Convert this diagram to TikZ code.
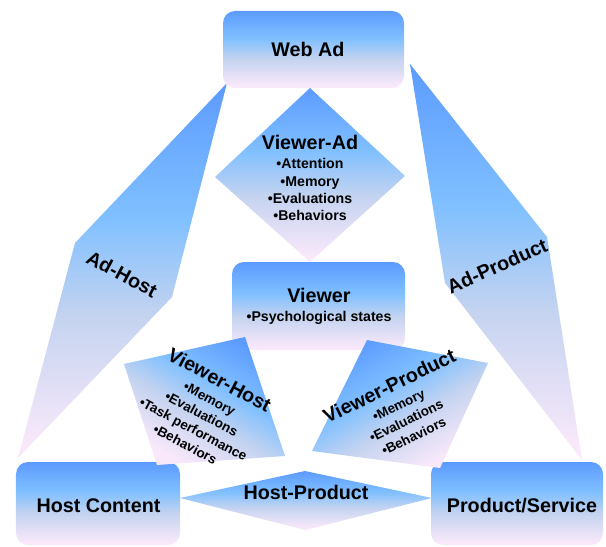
\documentclass[tikz,border=0pt]{standalone}
\usepackage{fontspec}
\setmainfont{Liberation Sans}
\definecolor{topc}{RGB}{92,155,255}
\definecolor{lightc}{RGB}{128,192,255}
\definecolor{greyc}{RGB}{196,211,240}
\definecolor{pinkc}{RGB}{248,232,250}
\pgfdeclareverticalshading{bluepink}{100bp}{color(0bp)=(pinkc); color(27bp)=(pinkc); color(44bp)=(greyc); color(57bp)=(lightc); color(75bp)=(topc); color(100bp)=(topc)}
\newcommand\ttl[1]{{\fontsize{19.8}{20}\selectfont #1}}
\tikzset{
  grad/.style={shading=bluepink, draw=none},
  boxnode/.style={grad, rounded corners=12bp, inner sep=0pt},
  label text/.style={font=\bfseries\fontsize{13.5}{17.3}\selectfont, align=center, inner sep=0pt},
  upright label/.style={label text, font=\bfseries\fontsize{14.2}{17.3}\selectfont},
  link text/.style={font=\bfseries\fontsize{19.8}{22}\selectfont, inner sep=0pt}
}
\begin{document}
\begin{tikzpicture}[x=1bp, y=-1bp]
\useasboundingbox (0,0) rectangle (606,547);

% corner points of the relation shapes
\coordinate (ah1) at (227,83);  \coordinate (ah2) at (75,243);
\coordinate (ah3) at (18,458);  \coordinate (ah4) at (172,297);
\coordinate (ap1) at (410,64);  \coordinate (ap2) at (547,237);
\coordinate (ap3) at (582,460); \coordinate (ap4) at (445,283);
\coordinate (va1) at (310,88);  \coordinate (va2) at (405,176);
\coordinate (va3) at (310,262); \coordinate (va4) at (215,177);
\coordinate (hp1) at (180,498); \coordinate (hp2) at (305,471);
\coordinate (hp3) at (432,498); \coordinate (hp4) at (305,530);
\coordinate (vh1) at (124,364); \coordinate (vh2) at (245,337);
\coordinate (vh3) at (285,456); \coordinate (vh4) at (157,465);
\coordinate (vp1) at (367,340); \coordinate (vp2) at (488,363);
\coordinate (vp3) at (440,468); \coordinate (vp4) at (312,451);

% links between the three entities
\path[grad] (ah1) -- (ah2) -- (ah3) -- (ah4) -- cycle;
\path[grad] (ap1) -- (ap2) -- (ap3) -- (ap4) -- cycle;
\path[grad] (va1) -- (va2) -- (va3) -- (va4) -- cycle;
\path[grad] (hp1) -- (hp2) -- (hp3) -- (hp4) -- cycle;

\node[link text, rotate=-28] (adhost) at (122,274) {Ad-Host};
\node[link text, rotate=24] (adprod) at (497,266) {Ad-Product};
\node[upright label] (viewerad) at (310,178)
  {\ttl{Viewer-Ad}\\[2pt]•Attention\\•Memory\\•Evaluations\\•Behaviors};
\node[link text] (hostprod) at (306,492) {Host-Product};

% entities
\node[boxnode, minimum width=181bp, minimum height=77bp] (webad) at (313.5,49.5) {};
\node[boxnode, minimum width=164bp, minimum height=83bp] (host) at (98,503.5) {};
\node[boxnode, minimum width=172bp, minimum height=83bp] (product) at (517,503.5) {};
\node[boxnode, minimum width=173bp, minimum height=88bp] (viewer) at (318.5,306) {};
\node[link text] (webadtext) at (308,49.7) {Web Ad};
\node[link text] (hosttext) at (98.5,505.5) {Host Content};
\node[link text] (producttext) at (522,506) {Product/Service};
\node[link text, align=center] (viewertext) at (319,306)
  {Viewer\\[-3pt]{\fontsize{14.2}{16}\selectfont •Psychological states}};

% viewer relations
\path[grad, shading angle=-30] (vh1) -- (vh2) -- (vh3) -- (vh4) -- cycle;
\path[grad, shading angle=30] (vp1) -- (vp2) -- (vp3) -- (vp4) -- cycle;
\node[label text, rotate=-28] (viewerhost) at (203,411)
  {\ttl{Viewer-Host}\\[2pt]•Memory\\•Evaluations\\•Task performance\\•Behaviors};
\node[label text, rotate=26] (viewerprod) at (401,410)
  {\ttl{Viewer-Product}\\[2pt]•Memory\\•Evaluations\\•Behaviors};
\end{tikzpicture}
\end{document}
